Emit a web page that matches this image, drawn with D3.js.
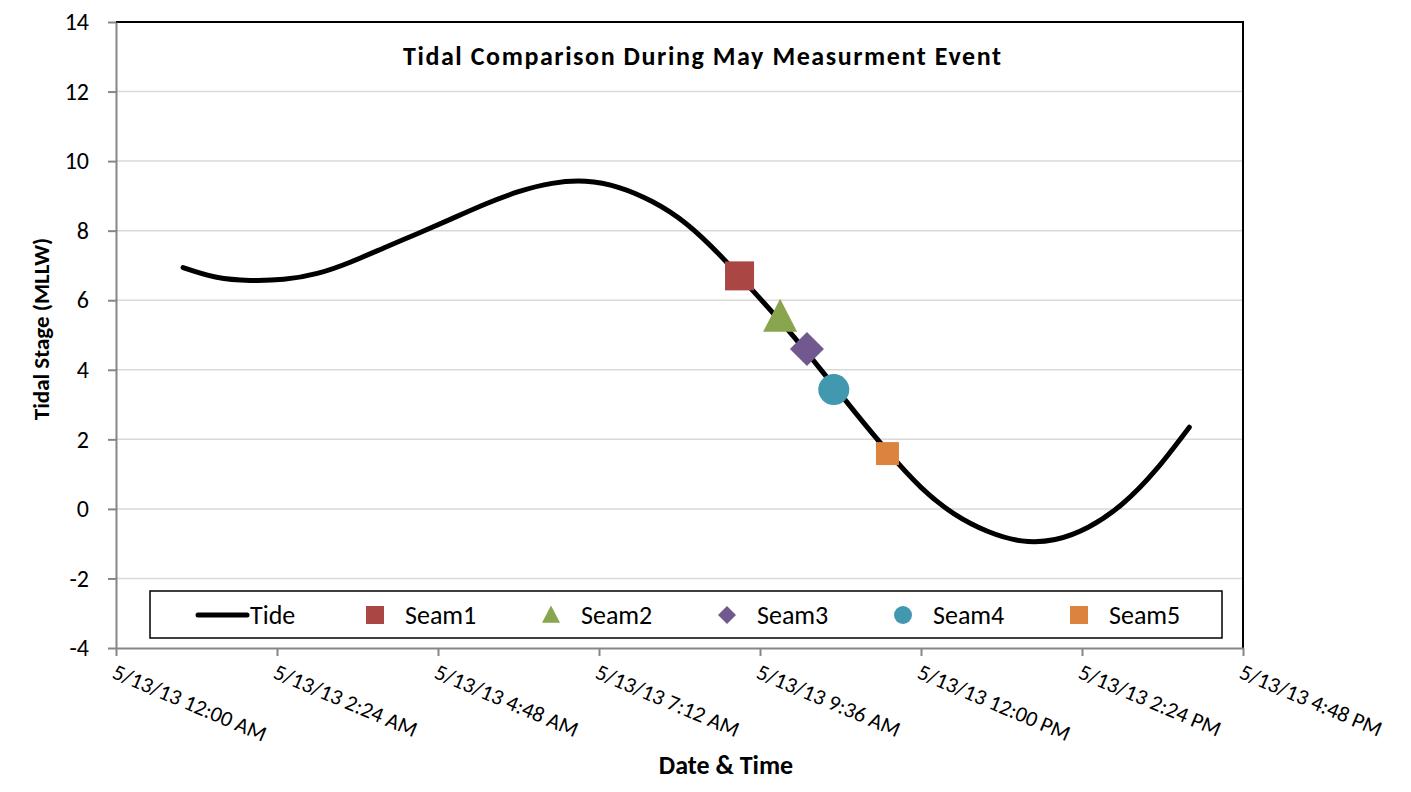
<!DOCTYPE html>
<html>
<head>
<meta charset="utf-8">
<script src="https://cdn.jsdelivr.net/npm/d3@7"></script>
<style>
  body { margin: 0; background: #fff; }
  svg text { font-family: Carlito, Calibri, Lato, sans-serif; fill: #000; }
</style>
</head>
<body>
<div id="chart"></div>
<script>
// hours after midnight, 5/13/2013
const tideHours = [1, 1.5, 2, 2.5, 3, 3.5, 4, 4.5, 5, 5.5, 6, 6.5, 7, 7.5, 8, 8.5,
    9, 9.5, 10, 10.5, 11, 11.5, 12, 12.5, 13, 13.5, 14, 14.5, 15, 15.5, 16];
const tideStage = [6.94, 6.66, 6.57, 6.60, 6.77, 7.10, 7.51, 7.92, 8.34, 8.76, 9.12, 9.36, 9.42, 9.24, 8.83, 8.20,
    7.30, 6.26, 5.18, 4.02, 2.82, 1.66, 0.62, -0.15, -0.65, -0.92, -0.88, -0.52, 0.14, 1.12, 2.35];

const seamNames = ["Seam1", "Seam2", "Seam3", "Seam4", "Seam5"];
const seamHours = [9.295, 9.9, 10.3, 10.7, 11.5];
const seamStage = [6.70, 5.52, 4.60, 3.43, 1.59];
const seamColors = ["#AA4643", "#89A54E", "#71588F", "#4198AF", "#DB843D"];
const seamShapes = ["square", "triangle", "diamond", "circle", "square"];
const seamSizes = [29, 34, 34, 31, 23];

const yTicks = [-4, -2, 0, 2, 4, 6, 8, 10, 12, 14];
const xTickHours = [0, 2.4, 4.8, 7.2, 9.6, 12, 14.4, 16.8];

const day = new Date(2013, 4, 13);
const toDate = h => new Date(day.getTime() + h * 3600 * 1000);

const width = 1411, height = 792;
const margin = { left: 116, right: 168, top: 22, bottom: 144 };

const svg = d3.select("#chart").append("svg")
    .attr("width", width)
    .attr("height", height);

const x = d3.scaleTime()
    .domain([toDate(0), toDate(16.8)])
    .range([margin.left, width - margin.right]);

const y = d3.scaleLinear()
    .domain([-4, 14])
    .range([height - margin.bottom, margin.top]);

// gridlines
svg.append("g")
    .selectAll("line")
    .data(yTicks.filter(d => d > -4 && d < 14))
    .join("line")
    .attr("x1", x.range()[0]).attr("x2", x.range()[1])
    .attr("y1", d => y(d)).attr("y2", d => y(d))
    .attr("stroke", "#d9d9d9")
    .attr("stroke-width", 1.5);

// plot border top / right
svg.append("path")
    .attr("d", `M${x.range()[0]},${y(14)}H${x.range()[1]}V${y(-4)}`)
    .attr("fill", "none")
    .attr("stroke", "#000")
    .attr("stroke-width", 2);

const fmt = d3.timeFormat("%-m/%-d/%y %-I:%M %p");

const xAxis = svg.append("g")
    .attr("transform", `translate(0,${y(-4)})`)
    .call(d3.axisBottom(x).tickValues(xTickHours.map(toDate)).tickFormat(fmt).tickSize(8).tickSizeOuter(0));

xAxis.selectAll("text")
    .attr("font-size", 22)
    .attr("text-anchor", "start")
    .attr("dy", null)
    .attr("y", 0)
    .attr("transform", "translate(1,14) rotate(23)")
    .attr("dominant-baseline", "hanging");

const yAxis = svg.append("g")
    .attr("transform", `translate(${margin.left},0)`)
    .call(d3.axisLeft(y).tickValues(yTicks).tickFormat(d => String(d))
        .tickSize(8).tickSizeOuter(0).tickPadding(19));

yAxis.selectAll("text").attr("font-size", 24);

svg.selectAll(".domain, .tick line")
    .attr("stroke", "#868686")
    .attr("stroke-width", 2);

// tide line
const line = d3.line()
    .x((d, i) => x(toDate(tideHours[i])))
    .y(d => y(d))
    .curve(d3.curveNatural);

svg.append("path")
    .datum(tideStage)
    .attr("d", line)
    .attr("fill", "none")
    .attr("stroke", "#000")
    .attr("stroke-width", 5)
    .attr("stroke-linecap", "round");

function symbolPath(shape, size) {
    if (shape === "triangle") {
        const h = size * 0.97, w = size;
        return `M0,${-h * 0.55}L${w / 2},${h * 0.45}L${-w / 2},${h * 0.45}Z`;
    }
    if (shape === "diamond") {
        const r = size / 2;
        return `M0,${-r}L${r},0L0,${r}L${-r},0Z`;
    }
    if (shape === "circle") return d3.symbol(d3.symbolCircle, Math.PI * size * size / 4)();
    return d3.symbol(d3.symbolSquare, size * size)();
}

// seam markers
svg.append("g")
    .selectAll("path")
    .data(seamNames)
    .join("path")
    .attr("transform", (d, i) => `translate(${x(toDate(seamHours[i]))},${y(seamStage[i])})`)
    .attr("d", (d, i) => symbolPath(seamShapes[i], seamSizes[i]))
    .attr("fill", (d, i) => seamColors[i]);

// title
svg.append("text")
    .attr("x", 702)
    .attr("y", 65)
    .attr("text-anchor", "middle")
    .attr("font-size", 26)
    .attr("font-weight", "bold")
    .attr("textLength", 598)
    .attr("lengthAdjust", "spacing")
    .text("Tidal Comparison During May Measurment Event");

svg.append("text")
    .attr("transform", `translate(49,329) rotate(-90)`)
    .attr("text-anchor", "middle")
    .attr("font-size", 23)
    .attr("font-weight", "bold")
    .text("Tidal Stage (MLLW)");

svg.append("text")
    .attr("x", 726)
    .attr("y", 774)
    .attr("text-anchor", "middle")
    .attr("font-size", 26)
    .attr("font-weight", "bold")
    .text("Date & Time");

// legend
const legend = svg.append("g");
legend.append("rect")
    .attr("x", 150).attr("y", 591)
    .attr("width", 1072).attr("height", 47)
    .attr("fill", "#fff")
    .attr("stroke", "#000")
    .attr("stroke-width", 1.5);

const legY = 615;
legend.append("line")
    .attr("x1", 198).attr("x2", 247)
    .attr("y1", legY).attr("y2", legY)
    .attr("stroke", "#000").attr("stroke-width", 5).attr("stroke-linecap", "round");
legend.append("text")
    .attr("x", 250).attr("y", legY)
    .attr("dominant-baseline", "central")
    .attr("font-size", 26)
    .text("Tide");

const legItems = legend.selectAll(".item")
    .data(seamNames)
    .join("g")
    .attr("class", "item")
    .attr("transform", (d, i) => `translate(${375 + i * 176},${legY})`);

legItems.append("path")
    .attr("d", (d, i) => symbolPath(seamShapes[i], 18))
    .attr("fill", (d, i) => seamColors[i]);

legItems.append("text")
    .attr("x", 30)
    .attr("dominant-baseline", "central")
    .attr("font-size", 26)
    .text(d => d);
</script>
</body>
</html>
